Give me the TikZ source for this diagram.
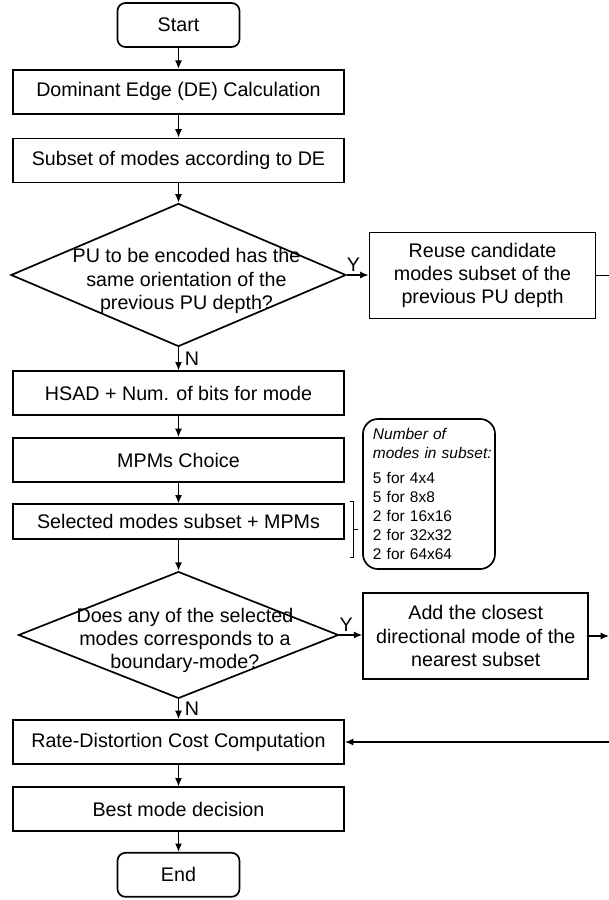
\documentclass[tikz,border=0pt]{standalone}
\usepackage{fontspec}
\setmainfont{Liberation Sans}
\usepackage{xcolor}
\usepackage{tikz}
\usetikzlibrary{shapes.geometric,arrows.meta}

\newcommand{\boxfont}{\fontsize{14}{16.5}\selectfont}
\newcommand{\notefont}{\fontsize{11}{13.6}\selectfont}

\tikzset{
  procbox/.style={draw, line width=1.2pt, minimum width=8.275cm, minimum height=1.1cm, font=\boxfont},
  termbox/.style={draw, line width=1.2pt, rounded corners=0.2cm, minimum width=3.05cm, minimum height=1.1cm, font=\boxfont},
  sidebox/.style={draw, line width=1.2pt, align=center, minimum width=5.65cm, minimum height=2.15cm, font=\boxfont},
  decision/.style={draw, diamond, line width=1.2pt, inner sep=0pt},
  flow/.style={line width=1pt, -{Latex[length=6pt,width=5pt]}},
  answer/.style={font=\boxfont, inner sep=2pt},
}

\begin{document}
\begin{tikzpicture}[x=0.025cm, y=-0.025cm]
    \useasboundingbox (0,0) rectangle (609,900);

    \node[termbox] (start) at (178.5,25) {Start};
    \node[procbox] (dom) at (178.5,91.7) {Dominant Edge (DE) Calculation};
    \node[procbox] (subset) at (178.5,160.5) {Subset of modes according to DE};
    \node[decision, minimum width=8.375cm, minimum height=3.575cm,
          label={[align=center, font=\boxfont, xshift=0.2cm, yshift=-0.15cm]center:PU to be encoded has the\\same orientation of the\\previous PU depth?}]
          (dec1) at (178.5,275) {};
    \node[sidebox] (reuse) at (482.5,275.5) {Reuse candidate\\modes subset of the\\previous PU depth};
    \node[procbox] (hsad) at (178.5,393.3) {HSAD + Num. of bits for mode};
    \node[procbox] (mpms) at (178.5,460) {MPMs Choice};
    \node[procbox, minimum height=0.875cm] (sel) at (178.5,521.8) {Selected modes subset + MPMs};
    \node[draw, line width=1.2pt, rounded corners=0.375cm, minimum width=3.3cm, minimum height=3.75cm,
          text width=2.8cm, align=left, inner xsep=0.23cm, font=\notefont] (note) at (429,494) {%
        \textit{Number of}\\\mbox{\textit{modes in subset:}}\\[4pt]
        5 for 4x4\\5 for 8x8\\2 for 16x16\\2 for 32x32\\2 for 64x64};
    \node[decision, minimum width=8.0cm, minimum height=3.17cm,
          label={[align=center, font=\boxfont, xshift=0.16cm, yshift=-0.14cm]center:Does any of the selected\\modes corresponds to a\\boundary-mode?}]
          (dec2) at (178.5,635) {};
    \node[sidebox, minimum width=5.625cm, minimum height=2.165cm] (add) at (475.7,636) {Add the closest\\directional mode of the\\nearest subset};
    \node[procbox] (rd) at (178.5,742) {Rate-Distortion Cost Computation};
    \node[procbox] (best) at (178.5,809.3) {Best mode decision};
    \node[termbox] (end) at (178.5,874.8) {End};

    \coordinate (reuseout) at (609,275.5);
    \coordinate (addout) at (609,636);
    \coordinate (rdin) at (609,742);

    \draw[flow] (start) -- (dom);
    \draw[flow] (dom) -- (subset);
    \draw[flow] (subset) -- (dec1);
    \draw[flow] (dec1) -- node[answer, right, xshift=2pt] {N} (hsad);
    \draw[flow] (dec1.east) -- node[answer, above, pos=0.3] {Y} (dec1.east -| reuse.west);
    \draw[line width=1pt] (reuse.east) -- (reuseout);
    \draw[flow] (hsad) -- (mpms);
    \draw[flow] (mpms) -- (sel);
    \draw[flow] (sel) -- (dec2);
    \draw[line width=0.6pt] (349.5,501) -- (353.5,501) -- (353.5,557) -- (349.5,557);
    \draw[line width=0.6pt] (353.5,529) -- (357.5,529);
    \draw[flow] (dec2) -- node[answer, right, xshift=2pt] {N} (rd);
    \draw[flow] (dec2.east) -- node[answer, above, pos=0.3] {Y} (dec2.east -| add.west);
    \draw[flow] (add) -- (addout);
    \draw[flow] (rdin) -- (rd);
    \draw[flow] (rd) -- (best);
    \draw[flow] (best) -- (end);
\end{tikzpicture}
\end{document}
